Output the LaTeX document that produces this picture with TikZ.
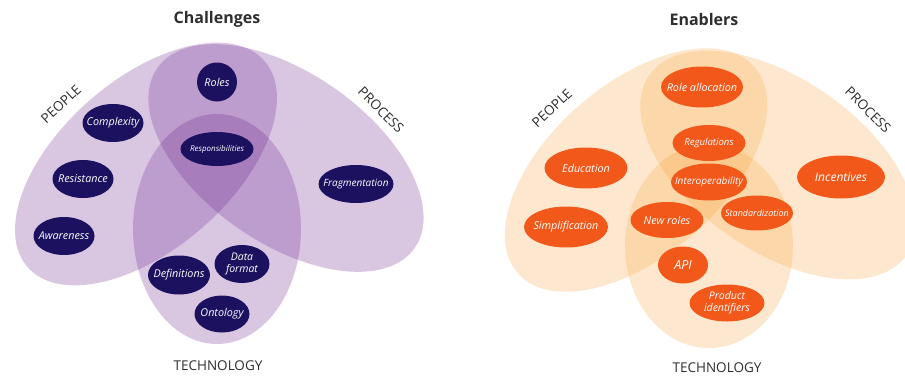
\documentclass[tikz,border=0pt]{standalone}
\usepackage{fontspec}
\setmainfont{Open Sans}
\usetikzlibrary{shapes.geometric}
\definecolor{chpurple}{RGB}{98,22,135}
\definecolor{chnavy}{RGB}{27,17,94}
\definecolor{enorange}{RGB}{247,152,35}
\definecolor{enred}{RGB}{241,88,26}
\definecolor{labelgray}{RGB}{45,45,45}
\tikzset{
  chzone/.style={fill=chpurple, fill opacity=0.24},
  enzone/.style={fill=enorange, fill opacity=0.22},
  bubble/.style={ellipse, inner xsep=-14pt, inner ysep=-5pt, text=white, align=center,
    font=\fontsize{10.8}{11.5}\selectfont\itshape},
  chbubble/.style={bubble, fill=chnavy},
  enbubble/.style={bubble, fill=enred},
  zonelabel/.style={text=labelgray, font=\fontsize{13.5}{15}\selectfont},
  paneltitle/.style={text=labelgray, font=\fontsize{16}{18}\selectfont\bfseries},
}

\begin{document}
\begin{tikzpicture}[x=1pt,y=-1pt]
\useasboundingbox (0,0) rectangle (905,380);
\clip (0,0) rectangle (905,380);
\fill[chzone, rotate around={41:(146,164)}] (146,164) ellipse [x radius=157pt, y radius=85pt];
\fill[chzone, rotate around={-35:(286,158)}] (286,158) ellipse [x radius=157pt, y radius=85pt];
\fill[chzone] (217,229) ellipse [x radius=84pt, y radius=115pt];
\fill[enzone, rotate around={41:(636,170)}] (636,170) ellipse [x radius=157pt, y radius=86pt];
\fill[enzone, rotate around={-35:(778,165)}] (778,165) ellipse [x radius=157pt, y radius=86pt];
\fill[enzone] (709,246) ellipse [x radius=84pt, y radius=102pt];

\node[paneltitle] (chtitle) at (217,19) {Challenges};
\node[paneltitle] (entitle) at (704,19) {Enablers};
\node[zonelabel, rotate=43] (chpeople) at (61,104) {PEOPLE};
\node[zonelabel, rotate=-45] (chprocess) at (381,110) {PROCESS};
\node[zonelabel] (chtech) at (218,366) {TECHNOLOGY};
\node[zonelabel, rotate=43] (enpeople) at (552,108) {PEOPLE};
\node[zonelabel, rotate=-45] (enprocess) at (868,110) {PROCESS};
\node[zonelabel] (entech) at (717,368) {TECHNOLOGY};

\node[chbubble, minimum width=40pt, minimum height=39pt] (roles) at (217,82) {Roles};
\node[chbubble, minimum width=61pt, minimum height=38pt] (complexity) at (113,123) {Complexity};
\node[chbubble, minimum width=73pt, minimum height=34pt, font=\fontsize{8}{9}\selectfont\itshape] (resp) at (217,149) {Responsibilities};
\node[chbubble, minimum width=61pt, minimum height=38pt] (resistance) at (83,179) {Resistance};
\node[chbubble, minimum width=75pt, minimum height=38pt, font=\fontsize{10}{11}\selectfont\itshape] (fragment) at (356,184) {Fragmentation};
\node[chbubble, minimum width=61pt, minimum height=38pt] (awareness) at (64,236) {Awareness};
\node[chbubble, minimum width=62pt, minimum height=39pt] (definitions) at (179,275) {Definitions};
\node[chbubble, minimum width=55pt, minimum height=38pt, font=\fontsize{10.5}{12.5}\selectfont\itshape] (dataformat) at (242,264) {Data\\format};
\node[chbubble, minimum width=55pt, minimum height=37pt] (ontology) at (222,314) {Ontology};

\node[enbubble, minimum width=82pt, minimum height=41pt] (roleall) at (702,87) {Role allocation};
\node[enbubble, minimum width=73pt, minimum height=36pt, font=\fontsize{9.6}{11}\selectfont\itshape] (regulations) at (709,143) {Regulations};
\node[enbubble, minimum width=83pt, minimum height=41pt] (education) at (586,168) {Education};
\node[enbubble, minimum width=76pt, minimum height=37pt, font=\fontsize{10}{11}\selectfont\itshape] (interop) at (709,182) {Interoperability};
\node[enbubble, minimum width=88pt, minimum height=43pt, font=\fontsize{12}{13}\selectfont\itshape] (incentives) at (841,177) {Incentives};
\node[enbubble, minimum width=73pt, minimum height=36pt] (newroles) at (667,220) {New roles};
\node[enbubble, minimum width=72pt, minimum height=35pt, font=\fontsize{9}{10}\selectfont\itshape] (standard) at (757,213) {Standardization};
\node[enbubble, minimum width=84pt, minimum height=41pt] (simplify) at (566,227) {Simplification};
\node[enbubble, minimum width=50pt, minimum height=37pt, font=\fontsize{12.5}{13}\selectfont\itshape] (api) at (683,265) {API};
\node[enbubble, minimum width=75pt, minimum height=37pt, font=\fontsize{10.5}{12.5}\selectfont\itshape] (prodid) at (727,303) {Product\\identifiers};
\end{tikzpicture}
\end{document}
